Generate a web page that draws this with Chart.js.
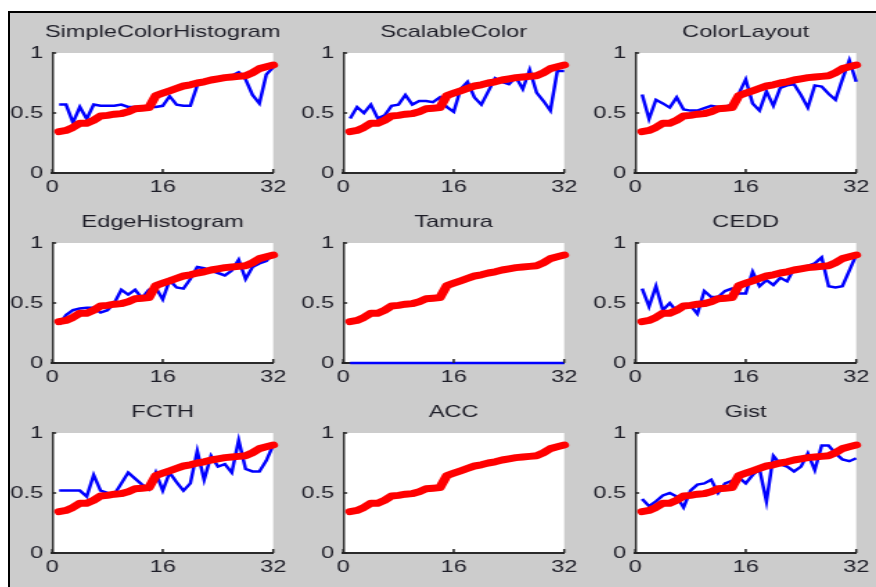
<!DOCTYPE html>
<html>
<head>
<meta charset="utf-8">
<script src="https://cdn.jsdelivr.net/npm/chart.js@4.4.1/dist/chart.umd.min.js"></script>
<style>
html,body{margin:0;padding:0;background:#fff;width:876px;height:587px;overflow:hidden;position:relative;}
#frame{position:absolute;left:8px;top:11px;right:0;bottom:0;background:#cccccc;border-top:2px solid #000;border-left:2px solid #000;}
.panel{position:absolute;transform-origin:0 0;}
</style>
</head>
<body>
<div id="frame"></div>
<div id="host"></div>
<script>
// ---- data ----
const titles = ["SimpleColorHistogram","ScalableColor","ColorLayout","EdgeHistogram","Tamura","CEDD","FCTH","ACC","Gist"];
const positions = [1,2,3,4,5,6,7,8,9,10,11,12,13,14,15,16,17,18,19,20,21,22,23,24,25,26,27,28,29,30,31,32];
const xTicks = [0,16,32];
const yTicks = [0,0.5,1];
// red reference curve (identical in all panels)
const reference = [0.345,0.355,0.38,0.415,0.415,0.44,0.475,0.48,0.49,0.495,0.51,0.535,0.54,0.545,0.645,0.665,0.685,0.705,0.725,0.735,0.75,0.76,0.775,0.785,0.795,0.80,0.805,0.81,0.835,0.87,0.885,0.90];
// blue curves, one per descriptor
const simpleColorHistogram = [0.57,0.57,0.42,0.55,0.45,0.57,0.56,0.56,0.56,0.57,0.55,0.55,0.55,0.55,0.55,0.56,0.64,0.57,0.56,0.56,0.73,0.75,0.77,0.79,0.80,0.81,0.84,0.78,0.65,0.58,0.82,0.88];
const scalableColor = [0.455,0.55,0.50,0.57,0.455,0.48,0.56,0.57,0.65,0.57,0.60,0.60,0.59,0.63,0.55,0.51,0.70,0.76,0.63,0.57,0.68,0.79,0.76,0.74,0.80,0.70,0.86,0.67,0.60,0.52,0.85,0.85];
const colorLayout = [0.655,0.45,0.61,0.58,0.545,0.63,0.53,0.52,0.52,0.54,0.56,0.55,0.55,0.57,0.66,0.78,0.58,0.52,0.68,0.56,0.71,0.73,0.74,0.65,0.545,0.73,0.72,0.66,0.61,0.78,0.94,0.76];
const edgeHistogram = [0.32,0.40,0.44,0.455,0.46,0.46,0.42,0.44,0.50,0.61,0.57,0.61,0.54,0.61,0.63,0.53,0.69,0.63,0.62,0.70,0.80,0.79,0.77,0.75,0.73,0.77,0.86,0.70,0.80,0.83,0.85,0.91];
const tamura = [0,0,0,0,0,0,0,0,0,0,0,0,0,0,0,0,0,0,0,0,0,0,0,0,0,0,0,0,0,0,0,0];
const cedd = [0.62,0.47,0.64,0.44,0.50,0.43,0.46,0.48,0.41,0.60,0.55,0.55,0.60,0.62,0.58,0.58,0.76,0.64,0.69,0.65,0.71,0.68,0.79,0.79,0.81,0.83,0.88,0.64,0.63,0.64,0.77,0.90];
const fcth = [0.52,0.52,0.52,0.52,0.47,0.65,0.52,0.50,0.49,0.58,0.67,0.62,0.57,0.53,0.67,0.52,0.67,0.59,0.52,0.58,0.85,0.61,0.81,0.72,0.74,0.67,0.94,0.70,0.68,0.68,0.77,0.90];
const acc = [0.345,0.355,0.38,0.415,0.415,0.44,0.475,0.48,0.49,0.495,0.51,0.535,0.54,0.545,0.645,0.665,0.685,0.705,0.725,0.735,0.75,0.76,0.775,0.785,0.795,0.80,0.805,0.81,0.835,0.87,0.885,0.90];
const gist = [0.45,0.39,0.43,0.48,0.50,0.47,0.38,0.52,0.57,0.58,0.61,0.50,0.58,0.60,0.63,0.58,0.65,0.70,0.43,0.81,0.74,0.72,0.68,0.72,0.83,0.69,0.895,0.895,0.83,0.78,0.765,0.79];
const blueSeries = [simpleColorHistogram,scalableColor,colorLayout,edgeHistogram,tamura,cedd,fcth,acc,gist];

// ---- layout ----
const S = 1.38;            // horizontal stretch of the original figure
const colLefts = [52,343,635];
const rowTops = [53,243,433];
const PLOT_W = 220, PLOT_H = 120, SIDE = 50, AX_H = 32, TITLE_H = 45;
const FONT = "'Liberation Sans', Arial, Helvetica, sans-serif";
const TXT = '#1e1e28';

const plotBg = {
  id:'plotBg',
  beforeDraw(chart){
    const a = chart.chartArea, c = chart.ctx;
    c.save(); c.fillStyle = '#ffffff';
    c.fillRect(a.left, a.top, a.right-a.left, a.bottom-a.top);
    c.restore();
  }
};
const innerTicks = {
  id:'innerTicks',
  afterDraw(chart){
    const c = chart.ctx, a = chart.chartArea;
    const xs = chart.scales.x, ys = chart.scales.y;
    c.save(); c.strokeStyle = '#222'; c.lineWidth = 1.5;
    xTicks.forEach(v => { const px = xs.getPixelForValue(v); c.beginPath(); c.moveTo(px, a.bottom); c.lineTo(px, a.bottom-4); c.stroke(); });
    yTicks.forEach(v => { const py = ys.getPixelForValue(v); c.beginPath(); c.moveTo(a.left, py); c.lineTo(a.left+4/S, py); c.stroke(); });
    c.restore();
  }
};

const host = document.getElementById('host');
titles.forEach((t, i) => {
  const col = i % 3, row = Math.floor(i / 3);
  const div = document.createElement('div');
  div.className = 'panel';
  div.style.left = (colLefts[col] - SIDE) + 'px';
  div.style.top = (rowTops[row] - TITLE_H) + 'px';
  div.style.width = ((SIDE + PLOT_W + SIDE) / S) + 'px';
  div.style.height = (TITLE_H + PLOT_H + AX_H) + 'px';
  div.style.transform = 'scaleX(' + S + ')';
  const cv = document.createElement('canvas');
  div.appendChild(cv);
  host.appendChild(div);

  new Chart(cv, {
    type: 'line',
    data: {
      datasets: [
        { data: reference.map((v,k)=>({x:positions[k], y:v})), borderColor:'#ff0000', borderWidth:7, pointRadius:0, tension:0, clip:false, borderJoinStyle:'round', borderCapStyle:'round' },
        { data: blueSeries[i].map((v,k)=>({x:positions[k], y:v})), borderColor:'#0000ff', borderWidth:2.5, pointRadius:0, tension:0, clip:false }
      ]
    },
    options: {
      responsive: true, maintainAspectRatio: false, animation: false,
      layout: { padding: 0 },
      plugins: {
        legend: { display:false }, tooltip: { enabled:false },
        title: { display:true, text:t, fullSize:true, color:TXT, font:{ family:FONT, size:17, weight:'normal', lineHeight:1.2 }, padding:{ top:14, bottom:10.6 } }
      },
      scales: {
        x: { type:'linear', min:0, max:32,
             afterBuildTicks(s){ s.ticks = xTicks.map(v=>({value:v})); },
             ticks:{ color:TXT, font:{family:FONT, size:17}, padding:4.5, maxRotation:0, autoSkip:false },
             grid:{ display:true, drawOnChartArea:false, drawTicks:false, color:'rgba(0,0,0,0)' },
             border:{ display:true, color:'#2a2a2a', width:2 },
             afterFit(s){ s.height = AX_H; } },
        y: { type:'linear', min:0, max:1,
             afterBuildTicks(s){ s.ticks = yTicks.map(v=>({value:v})); },
             ticks:{ color:TXT, font:{family:FONT, size:17}, padding:6.5, callback:v=>String(v) },
             grid:{ display:true, drawOnChartArea:false, drawTicks:false, color:'rgba(0,0,0,0)' },
             border:{ display:true, color:'#2a2a2a', width:2/S },
             afterFit(s){ s.width = SIDE/S; } },
        spacer: { type:'linear', position:'right', display:true, min:0, max:1,
             ticks:{ display:false }, grid:{ display:false, drawTicks:false }, border:{ display:false },
             afterFit(s){ s.width = SIDE/S; } }
      }
    },
    plugins: [plotBg, innerTicks]
  });
});
</script>
</body>
</html>
